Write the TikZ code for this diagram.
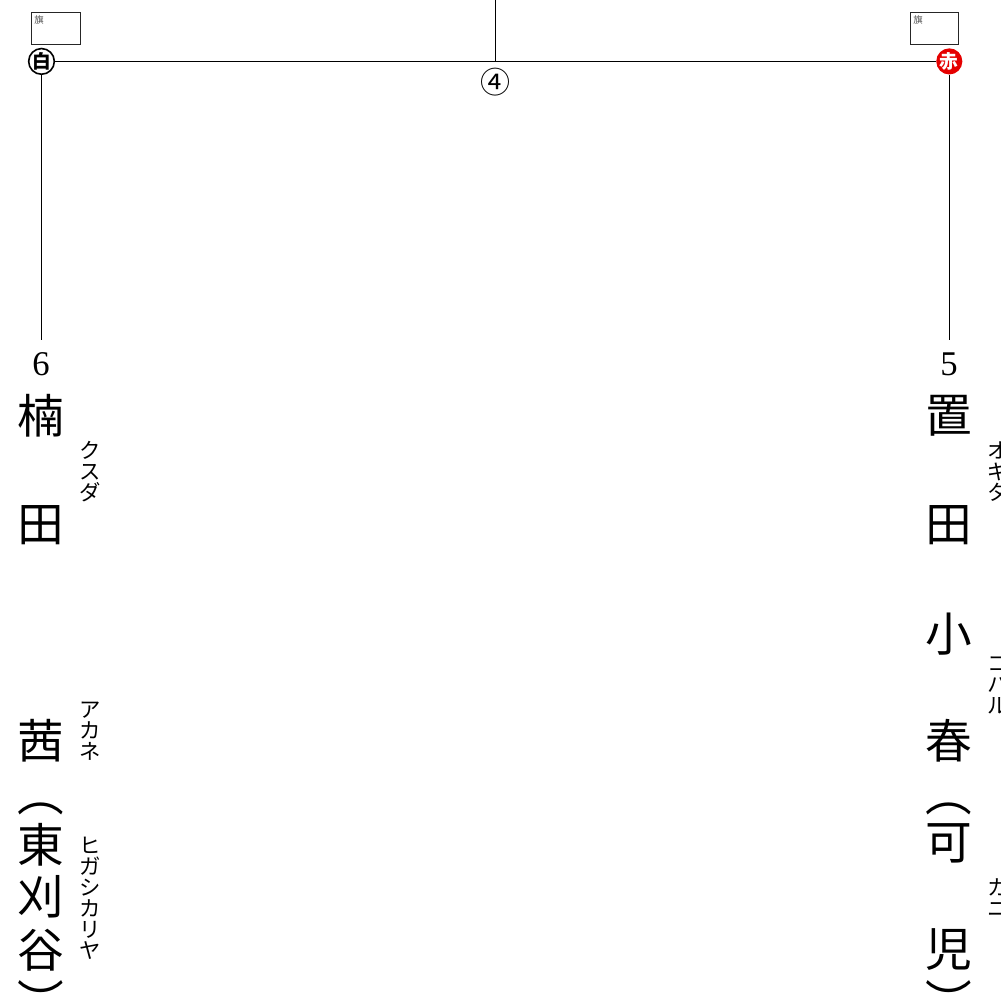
\documentclass[tikz,border=0pt]{standalone}
\usepackage{fontspec}
\setmainfont{Liberation Serif}
\newfontfamily\jp{Noto Sans CJK JP}
\tikzset{
  px/.style={x=0.75pt,y=-0.75pt},
  bigchar/.style={inner sep=0pt,font=\jp\fontsize{35}{35}\selectfont,text=black},
  lowparen/.style={bigchar,anchor=base},
  kana/.style={inner sep=0pt,align=center,font=\jp\fontsize{16}{15.7}\selectfont,text=black},
  numlabel/.style={inner sep=0pt,font=\fontsize{26}{26}\selectfont},
  flagbox/.style={draw=black!85,line width=0.7pt,minimum width=36.2pt,minimum height=24.5pt,inner sep=0pt},
  flagtext/.style={inner sep=0pt,font=\jp\fontsize{7}{7}\selectfont,text=black!70},
  conn/.style={draw=black,line width=0.8pt},
}
\begin{document}
\begin{tikzpicture}[px]
\useasboundingbox (0,0) rectangle (1001,997);
\clip (0,0) rectangle (1001,997);
\coordinate (top) at (495.5,0);
\coordinate (mid) at (495.5,61.4);
\coordinate (leftend) at (41.5,340);
\coordinate (rightend) at (949.3,340);
% flags
\node[flagbox] (flagL) at (56,28.5) {};
\node[flagtext] (flagLt) at (39,20) {旗};
\node[flagbox] (flagR) at (934.5,28.5) {};
\node[flagtext] (flagRt) at (918,20) {旗};
% badges
\node[circle,draw=black,fill=white,line width=1.2pt,minimum size=18.4pt,inner sep=0pt,font=\jp\bfseries\fontsize{14}{14}\selectfont] (white) at (41.5,61.4) {白};
\node[circle,fill=red!90!black,minimum size=19.6pt,inner sep=0pt,text=white,font=\jp\bfseries\fontsize{14}{14}\selectfont] (red) at (949.3,61.4) {赤};
% connectors
\draw[conn] (white) -- (red);
\draw[conn] (top) -- (mid);
\draw[conn] (white) -- (leftend);
\draw[conn] (red) -- (rightend);
\node[inner sep=0pt,font=\jp\fontsize{22.5}{22.5}\selectfont] (round) at (495,82) {④};
% numbers
\node[numlabel] (n6) at (41,364) {6};
\node[numlabel] (n5) at (949,364) {5};
% left name
\node[bigchar] (l1) at (41,416) {楠};
\node[bigchar] (l2) at (41,525) {田};
\node[bigchar] (l3) at (41,741) {茜};
\node[bigchar] (l4) at (41,809) {︵};
\node[bigchar] (l5) at (41,845) {東};
\node[bigchar] (l6) at (41,897) {刈};
\node[bigchar] (l7) at (41,950) {谷};
\node[lowparen] (l8) at (41,1019) {︶};
\node[kana] (lk1) at (90,472) {ク\\ス\\ダ};
\node[kana] (lk2) at (90,731) {ア\\カ\\ネ};
\node[kana] (lk3) at (90,898) {ヒ\\ガ\\シ\\カ\\リ\\ヤ};
% right name
\node[bigchar] (r1) at (949,416) {置};
\node[bigchar] (r2) at (949,525) {田};
\node[bigchar] (r3) at (949,634) {小};
\node[bigchar] (r4) at (949,741) {春};
\node[bigchar] (r5) at (949,809) {︵};
\node[bigchar] (r6) at (949,843) {可};
\node[bigchar] (r7) at (949,950) {児};
\node[lowparen] (r8) at (949,1019) {︶};
\node[kana] (rk1) at (998,472) {オ\\ギ\\タ};
\node[kana] (rk2) at (998,685) {コ\\ハ\\ル};
\node[kana] (rk3) at (998,898) {カ\\ニ};
\end{tikzpicture}
\end{document}
